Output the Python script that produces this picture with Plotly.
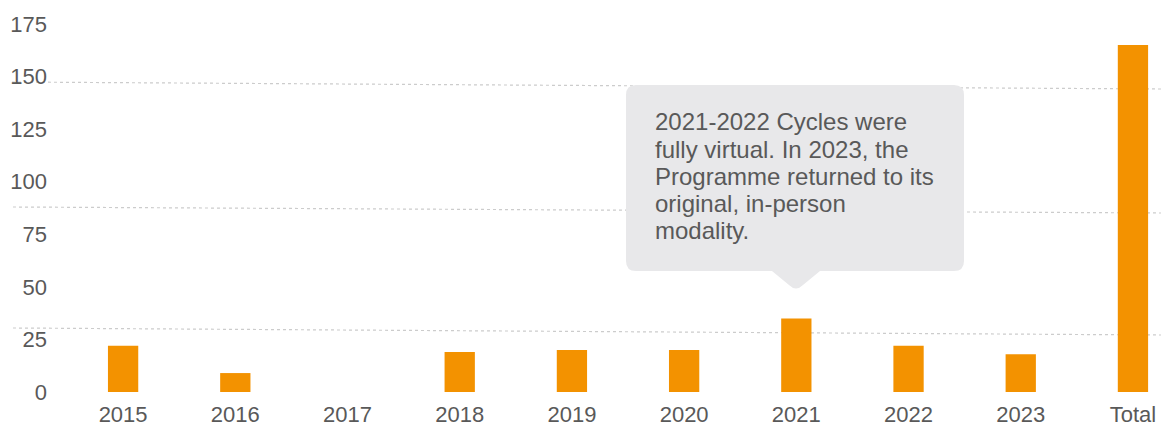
import plotly.graph_objects as go

categories = ["2015", "2016", "2017", "2018", "2019", "2020", "2021", "2022", "2023", "Total"]
values = [22, 9, 0, 19, 20, 20, 35, 22, 18, 165]
y_ticks = [0, 25, 50, 75, 100, 125, 150, 175]
note_lines = ["2021-2022 Cycles were", "fully virtual. In 2023, the",
              "Programme returned to its", "original, in-person", "modality."]

W, H = 1161, 426
ML, MR, MT, MB = 67, 0, 24, 34
PW, PH = W - ML - MR, H - MT - MB

def px(x):
    return (x - ML) / PW

def py(y):
    return (H - MB - y) / PH

fig = go.Figure(go.Bar(
    x=categories, y=values, width=0.27,
    marker=dict(color="#f39200", line=dict(width=0)),
    hoverinfo="skip",
))

shapes = []
# decorative dotted guide lines (slightly slanted as in the original)
for (x0, y0, x1, y1) in [(12, 82, 1161, 89), (13, 207, 1161, 213), (13, 328, 1161, 335)]:
    shapes.append(dict(type="line", xref="paper", yref="paper",
                       x0=px(x0), y0=py(y0), x1=px(x1), y1=py(y1),
                       line=dict(color="#cccccc", width=1.2, dash="dot"),
                       layer="below"))

# callout box
L, R, T, B, r = 626, 964, 85, 271, 10
pts = [
    ("M", (L + r, T)), ("L", (R - r, T)), ("Q", (R, T), (R, T + r)),
    ("L", (R, B - r)), ("Q", (R, B), (R - r, B)),
    ("L", (820, B)), ("L", (803, 285)), ("Q", (796, 292), (789, 285)), ("L", (772, B)),
    ("L", (L + r, B)), ("Q", (L, B), (L, B - r)),
    ("L", (L, T + r)), ("Q", (L, T), (L + r, T)),
]
path = ""
for p in pts:
    cmd = p[0]
    coords = " ".join(f"{px(a):.5f},{py(b):.5f}" for a, b in p[1:])
    path += f"{cmd} {coords} "
path += "Z"
shapes.append(dict(type="path", xref="paper", yref="paper", path=path,
                   fillcolor="#e8e8ea", line=dict(width=0), layer="above"))

annotations = []
for i, line in enumerate(note_lines):
    baseline = 130 + 27.1 * i
    annotations.append(dict(xref="paper", yref="paper", x=px(653), y=py(baseline - 8),
                            xanchor="left", yanchor="middle", align="left",
                            text=line, showarrow=False,
                            font=dict(size=24, color="#595959",
                                      family="Liberation Sans, Arial, sans-serif")))

fig.update_layout(
    width=W, height=H,
    margin=dict(l=ML, r=MR, t=MT, b=MB, pad=0),
    paper_bgcolor="white", plot_bgcolor="white",
    showlegend=False,
    shapes=shapes,
    font=dict(family="Liberation Sans, Arial, sans-serif", color="#595959"),
    xaxis=dict(range=[-0.5, 9.25], showgrid=False, zeroline=False, showline=False,
               ticks="", ticklabelstandoff=7, automargin=False,
               tickfont=dict(size=22, color="#595959"), fixedrange=True),
    yaxis=dict(range=[0, 175], tickvals=y_ticks, showgrid=False, zeroline=False,
               showline=False, ticks="", ticklabelstandoff=19, automargin=False,
               tickfont=dict(size=22, color="#595959"), fixedrange=True),
    annotations=annotations,
)

fig.write_html("out.html", config={"displayModeBar": False},
               post_script="document.body.style.margin='0';document.body.style.overflow='hidden';")
